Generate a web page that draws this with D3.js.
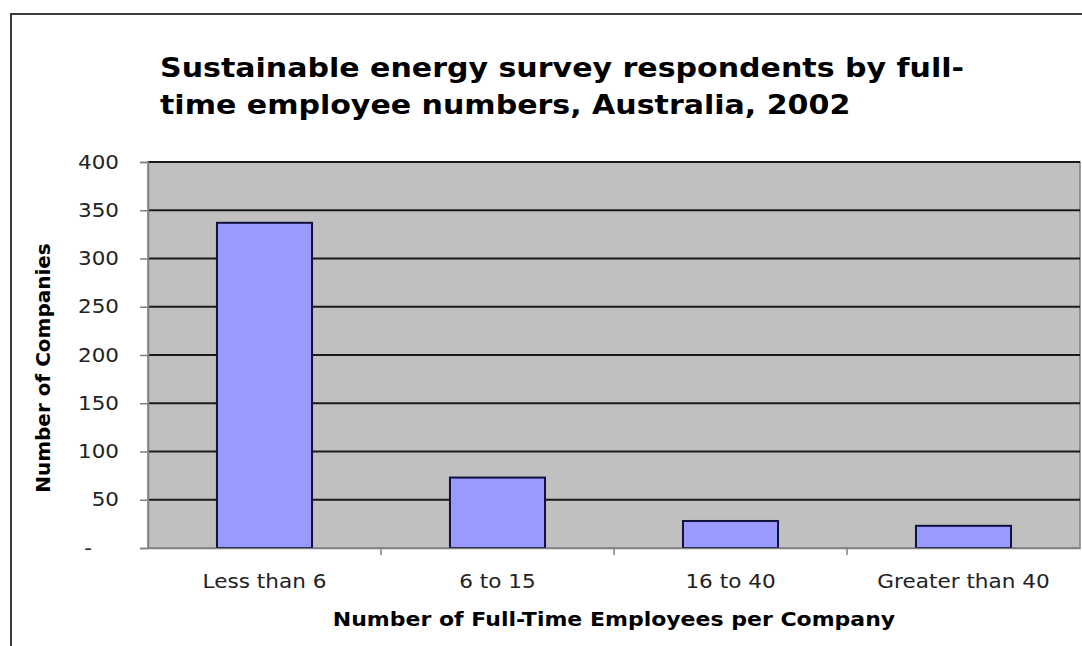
<!DOCTYPE html>
<html><head><meta charset="utf-8">
<script src="https://cdn.jsdelivr.net/npm/d3@7"></script>
<style>body{margin:0;background:#fff;} svg{display:block;}</style>
</head><body>
<script>
const categories = ["Less than 6", "6 to 15", "16 to 40", "Greater than 40"];
const values = [337, 73, 28, 23];
const yTicks = [0, 50, 100, 150, 200, 250, 300, 350, 400];
const yTickLabels = ["-", "50", "100", "150", "200", "250", "300", "350", "400"];
const titleLines = ["Sustainable energy survey respondents by full-", "time employee numbers, Australia, 2002"];
const xTitle = "Number of Full-Time Employees per Company";
const yTitle = "Number of Companies";

const W = 1082, H = 646;
const m = {left: 148, right: 2, top: 162, bottom: 98};
const svg = d3.select("body").append("svg").attr("width", W).attr("height", H);
const font = "'DejaVu Sans', Verdana, sans-serif";

// horizontally stretch a text element by factor k (keeps anchor)
function stretch(sel, k) {
  sel.each(function () {
    const len = this.getComputedTextLength();
    d3.select(this).attr("textLength", len * k).attr("lengthAdjust", "spacingAndGlyphs");
  });
}

// outer chart border
svg.append("rect").attr("x", 11).attr("y", 14).attr("width", W + 20).attr("height", H + 20)
  .attr("fill", "none").attr("stroke", "#3a3a3a").attr("stroke-width", 2);

const xb = d3.scaleBand().domain(categories).range([m.left, W - m.right]);
const y = d3.scaleLinear().domain([0, 400]).range([H - m.bottom, m.top]);

// plot area
svg.append("rect").attr("x", m.left).attr("y", m.top).attr("width", W - m.right - m.left)
  .attr("height", H - m.bottom - m.top).attr("fill", "#c0c0c0").attr("stroke", "#808080").attr("stroke-width", 1.5);

// gridlines
svg.append("g").selectAll("line").data(yTicks.filter(d => d > 0)).join("line")
  .attr("x1", m.left).attr("x2", W - m.right)
  .attr("y1", d => y(d)).attr("y2", d => y(d))
  .attr("stroke", "#1a1a1a").attr("stroke-width", 2);

// bars
const barW = xb.bandwidth() * 0.408;
svg.append("g").selectAll("rect").data(values).join("rect")
  .attr("x", (d, i) => xb(categories[i]) + xb.bandwidth() / 2 - barW / 2)
  .attr("width", barW)
  .attr("y", d => y(d)).attr("height", d => y(0) - y(d))
  .attr("fill", "#9999ff").attr("stroke", "#10103a").attr("stroke-width", 2);

// y axis
const yAxis = d3.axisLeft(y).tickValues(yTicks).tickFormat((d, i) => yTickLabels[i]).tickSize(8).tickPadding(21);
const gy = svg.append("g").attr("transform", `translate(${m.left},0)`).call(yAxis);
gy.select(".domain").attr("stroke", "#808080").attr("stroke-width", 1.5);
gy.selectAll(".tick line").attr("stroke", "#808080").attr("stroke-width", 1.5);
gy.selectAll("text").attr("font-family", font).attr("font-size", 19).attr("fill", "#222")
  .attr("x", d => d === 0 ? -56 : -29);
gy.selectAll("text").call(stretch, 1.13);

// x axis
const xAxis = d3.axisBottom(xb).tickSize(0).tickPadding(27);
const gx = svg.append("g").attr("transform", `translate(0,${H - m.bottom})`).call(xAxis);
gx.select(".domain").attr("stroke", "#808080").attr("stroke-width", 1.5);
gx.selectAll("text").attr("font-family", font).attr("font-size", 19).attr("fill", "#222").attr("dy", "0.71em");
gx.selectAll("text").call(stretch, 1.135);
// category boundary ticks
svg.append("g").selectAll("line").data(categories.slice(1)).join("line")
  .attr("x1", d => xb(d)).attr("x2", d => xb(d))
  .attr("y1", H - m.bottom).attr("y2", H - m.bottom + 7)
  .attr("stroke", "#808080").attr("stroke-width", 1.5);

// titles
const tl = svg.append("g").selectAll("text").data(titleLines).join("text")
  .attr("x", 160).attr("y", (d, i) => 77 + i * 37)
  .attr("font-family", font).attr("font-weight", "bold").attr("font-size", 26).attr("fill", "#000")
  .text(d => d);
tl.call(stretch, 1.155);

svg.append("text").attr("x", 614).attr("y", 626).attr("text-anchor", "middle")
  .attr("font-family", font).attr("font-weight", "bold").attr("font-size", 20).attr("fill", "#000")
  .text(xTitle).call(stretch, 1.1);

svg.append("text").attr("transform", `translate(50,368) rotate(-90)`).attr("text-anchor", "middle")
  .attr("font-family", font).attr("font-weight", "bold").attr("font-size", 20).attr("fill", "#000")
  .text(yTitle);
</script>
</body></html>
